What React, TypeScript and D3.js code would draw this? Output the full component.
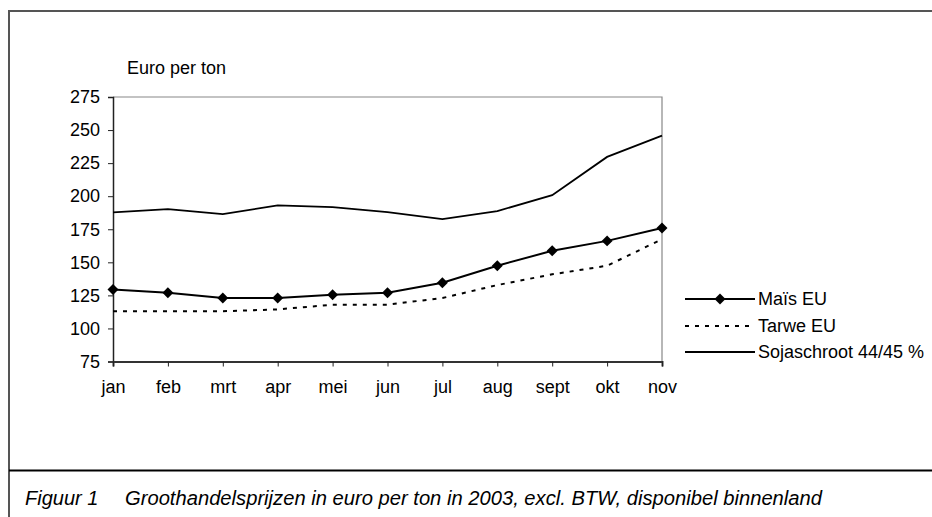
import * as d3 from 'd3';
import React, { useEffect, useRef } from 'react';

const months = ['jan', 'feb', 'mrt', 'apr', 'mei', 'jun', 'jul', 'aug', 'sept', 'okt', 'nov'];
const mais = [129.5, 127, 123, 123, 125.5, 127, 134.5, 147.4, 158.7, 166.2, 176];
const tarwe = [113, 113, 113, 114.4, 117.9, 118, 123, 132.8, 140.9, 147.4, 167.5];
const soja = [187.7, 190.2, 186.4, 193, 191.7, 188, 182.6, 188.7, 200.8, 229.7, 245.8];
const yTicks = [75, 100, 125, 150, 175, 200, 225, 250, 275];
const seriesNames = ['Maïs EU', 'Tarwe EU', 'Sojaschroot 44/45 %'];

const FONT = '"Liberation Sans", Arial, sans-serif';

const App = () => {
    const chartArea = useRef(null);
    const W = 932, H = 517;
    const plot = { left: 113, right: 662, top: 97, bottom: 361.5 };

    useEffect(() => {
        const svg = d3.select(chartArea.current);
        svg.selectAll('*').remove();

        // outer frame
        svg.append('path')
            .attr('d', `M9,${H} L9,11 L${W},11`)
            .attr('fill', 'none')
            .attr('stroke', '#555')
            .attr('stroke-width', 2);
        svg.append('line')
            .attr('x1', 9).attr('x2', W)
            .attr('y1', 470.5).attr('y2', 470.5)
            .attr('stroke', '#000')
            .attr('stroke-width', 2);

        svg.append('text')
            .attr('x', 25).attr('y', 505)
            .attr('font-family', FONT)
            .attr('font-style', 'italic')
            .attr('font-size', 20)
            .text('Figuur 1');
        svg.append('text')
            .attr('x', 125).attr('y', 505)
            .attr('font-family', FONT)
            .attr('font-style', 'italic')
            .attr('font-size', 20)
            .attr('textLength', 697)
            .attr('lengthAdjust', 'spacingAndGlyphs')
            .text('Groothandelsprijzen in euro per ton in 2003, excl. BTW, disponibel binnenland');

        const x = d3.scalePoint<string>()
            .domain(months)
            .range([plot.left, plot.right]);
        const y = d3.scaleLinear()
            .domain([75, 275])
            .range([plot.bottom, plot.top]);

        // top and right frame of plot
        svg.append('path')
            .attr('d', `M${plot.left},${y(275)} L${plot.right},${y(275)} L${plot.right},${y(75)}`)
            .attr('fill', 'none')
            .attr('stroke', '#888')
            .attr('stroke-width', 1.2);

        const yAxis = svg.append('g')
            .attr('transform', `translate(${plot.left},0)`)
            .call(d3.axisLeft(y).tickValues(yTicks).tickSize(5).tickPadding(8));
        yAxis.select('.domain').attr('stroke', '#222').attr('stroke-width', 1.5);
        yAxis.selectAll('line').attr('stroke', '#222');
        yAxis.selectAll('text')
            .attr('font-family', FONT)
            .attr('font-size', 18)
            .attr('fill', '#000');

        const xAxis = svg.append('g')
            .attr('transform', `translate(0,${plot.bottom})`)
            .call(d3.axisBottom(x).tickSize(5).tickPadding(14));
        xAxis.select('.domain').attr('stroke', '#333').attr('stroke-width', 2);
        xAxis.selectAll('line').attr('stroke', '#222');
        xAxis.selectAll('text')
            .attr('font-family', FONT)
            .attr('font-size', 18)
            .attr('fill', '#000');

        svg.append('text')
            .attr('x', 127).attr('y', 74)
            .attr('font-family', FONT)
            .attr('font-size', 18)
            .text('Euro per ton');

        const line = d3.line<number>()
            .x((d, i) => x(months[i]) as number)
            .y(d => y(d));

        svg.append('path').datum(soja)
            .attr('d', line)
            .attr('fill', 'none')
            .attr('stroke', '#000')
            .attr('stroke-width', 1.8);

        svg.append('path').datum(tarwe)
            .attr('d', line)
            .attr('fill', 'none')
            .attr('stroke', '#000')
            .attr('stroke-width', 2)
            .attr('stroke-dasharray', '4,6');

        svg.append('path').datum(mais)
            .attr('d', line)
            .attr('fill', 'none')
            .attr('stroke', '#000')
            .attr('stroke-width', 2);

        const diamond = d3.symbol().type(d3.symbolSquare).size(60);
        svg.selectAll('path.mk').data(mais).enter()
            .append('path')
            .attr('class', 'mk')
            .attr('d', diamond)
            .attr('transform', (d, i) => `translate(${x(months[i])},${y(d)}) rotate(45)`)
            .attr('fill', '#000');

        // legend
        const lg = svg.append('g');
        const lx1 = 685, lx2 = 755;
        const rows = [299, 326, 352];
        seriesNames.forEach((name, i) => {
            const ly = rows[i];
            const ln = lg.append('line')
                .attr('x1', lx1).attr('x2', lx2)
                .attr('y1', ly).attr('y2', ly)
                .attr('stroke', '#000')
                .attr('stroke-width', 2);
            if (i === 1) ln.attr('stroke-dasharray', '4,6');
            if (i === 0) {
                lg.append('path')
                    .attr('d', diamond)
                    .attr('transform', `translate(${(lx1 + lx2) / 2},${ly}) rotate(45)`)
                    .attr('fill', '#000');
            }
            lg.append('text')
                .attr('x', lx2 + 3).attr('y', ly + 6)
                .attr('font-family', FONT)
                .attr('font-size', 18)
                .text(name);
        });
    }, []);

    return <svg
        ref={chartArea}
        width={W}
        height={H}
        style={{ position: 'absolute', left: 0, top: 0, background: '#fff' }}
    />;
}
export default App;
